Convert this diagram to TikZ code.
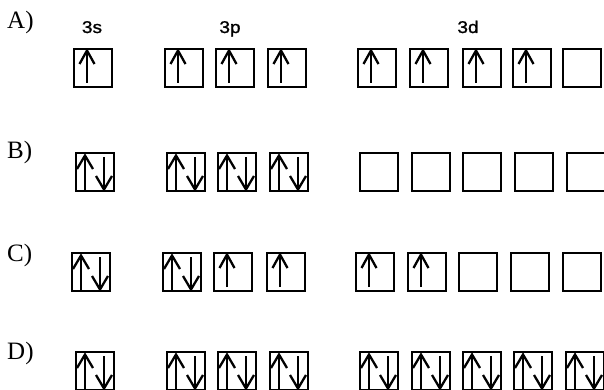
\documentclass[tikz,border=0pt]{standalone}
\usepackage{fontspec}
\setmainfont{Liberation Serif}
\newfontfamily\lblfont[FakeStretch=1.12,FakeBold=1.2]{Liberation Sans}
\tikzset{
  x=1pt, y=-1pt,
  orbital/.style={draw, line width=2.4pt, minimum size=37.6pt, inner sep=0pt, outer sep=0pt},
  shaft/.style={line width=1.7pt},
  head/.style={line width=2.3pt, line join=miter, line cap=butt},
  letter/.style={font=\fontsize{25}{30}\selectfont, inner sep=0pt, anchor=base west},
  shell/.style={font=\lblfont\fontsize{17}{20}\selectfont, inner sep=0pt, anchor=base}
}
\newcommand\orbbox[4]{%
  \node[orbital] (#1) at (#2+20,#3+20) {};
  \ifcase#4\relax
  \or
    \draw[shaft] ([shift={(-6,15)}]#1.center) -- ([shift={(-6,-17)}]#1.center);
    \draw[head] ([shift={(-13.5,-4)}]#1.center) -- ([shift={(-6,-17.5)}]#1.center) -- ([shift={(1.5,-4)}]#1.center);
  \or
    \draw[shaft] ([shift={(-10,18)}]#1.center) -- ([shift={(-10,-16)}]#1.center);
    \draw[head] ([shift={(-18,-3)}]#1.center) -- ([shift={(-10,-16.5)}]#1.center) -- ([shift={(-2,-3)}]#1.center);
    \draw[shaft] ([shift={(9,-15)}]#1.center) -- ([shift={(9,17)}]#1.center);
    \draw[head] ([shift={(1,4)}]#1.center) -- ([shift={(9,17.5)}]#1.center) -- ([shift={(17,4)}]#1.center);
  \fi
}
\begin{document}
\begin{tikzpicture}
\useasboundingbox[fill=white] (0,0) rectangle (604,390);
% row labels
\node[letter] (la) at (7,29) {A)};
\node[letter] (lb) at (7,158) {B)};
\node[letter] (lc) at (7,261) {C)};
\node[letter] (ld) at (7,359) {D)};
% shell labels
\node[shell] (s3s) at (92,33) {3s};
\node[shell] (s3p) at (230,33) {3p};
\node[shell] (s3d) at (468,33) {3d};
% row A
\foreach \x/\k [count=\i] in {73/1,164/1,215/1,267/1,357/1,409/1,462/1,512/1,562/0}
  {\orbbox{a\i}{\x}{48}{\k}}
% row B
\foreach \x/\k [count=\i] in {75/2,166/2,217/2,269/2,359/0,411/0,462/0,514/0,566/0}
  {\orbbox{b\i}{\x}{152}{\k}}
% row C
\foreach \x/\k [count=\i] in {71/2,162/2,213/1,266/1,355/1,407/1,458/0,510/0,562/0}
  {\orbbox{c\i}{\x}{252}{\k}}
% row D
\foreach \x/\k [count=\i] in {75/2,166/2,217/2,269/2,359/2,411/2,462/2,513/2,565/2}
  {\orbbox{d\i}{\x}{351}{\k}}
\end{tikzpicture}
\end{document}
